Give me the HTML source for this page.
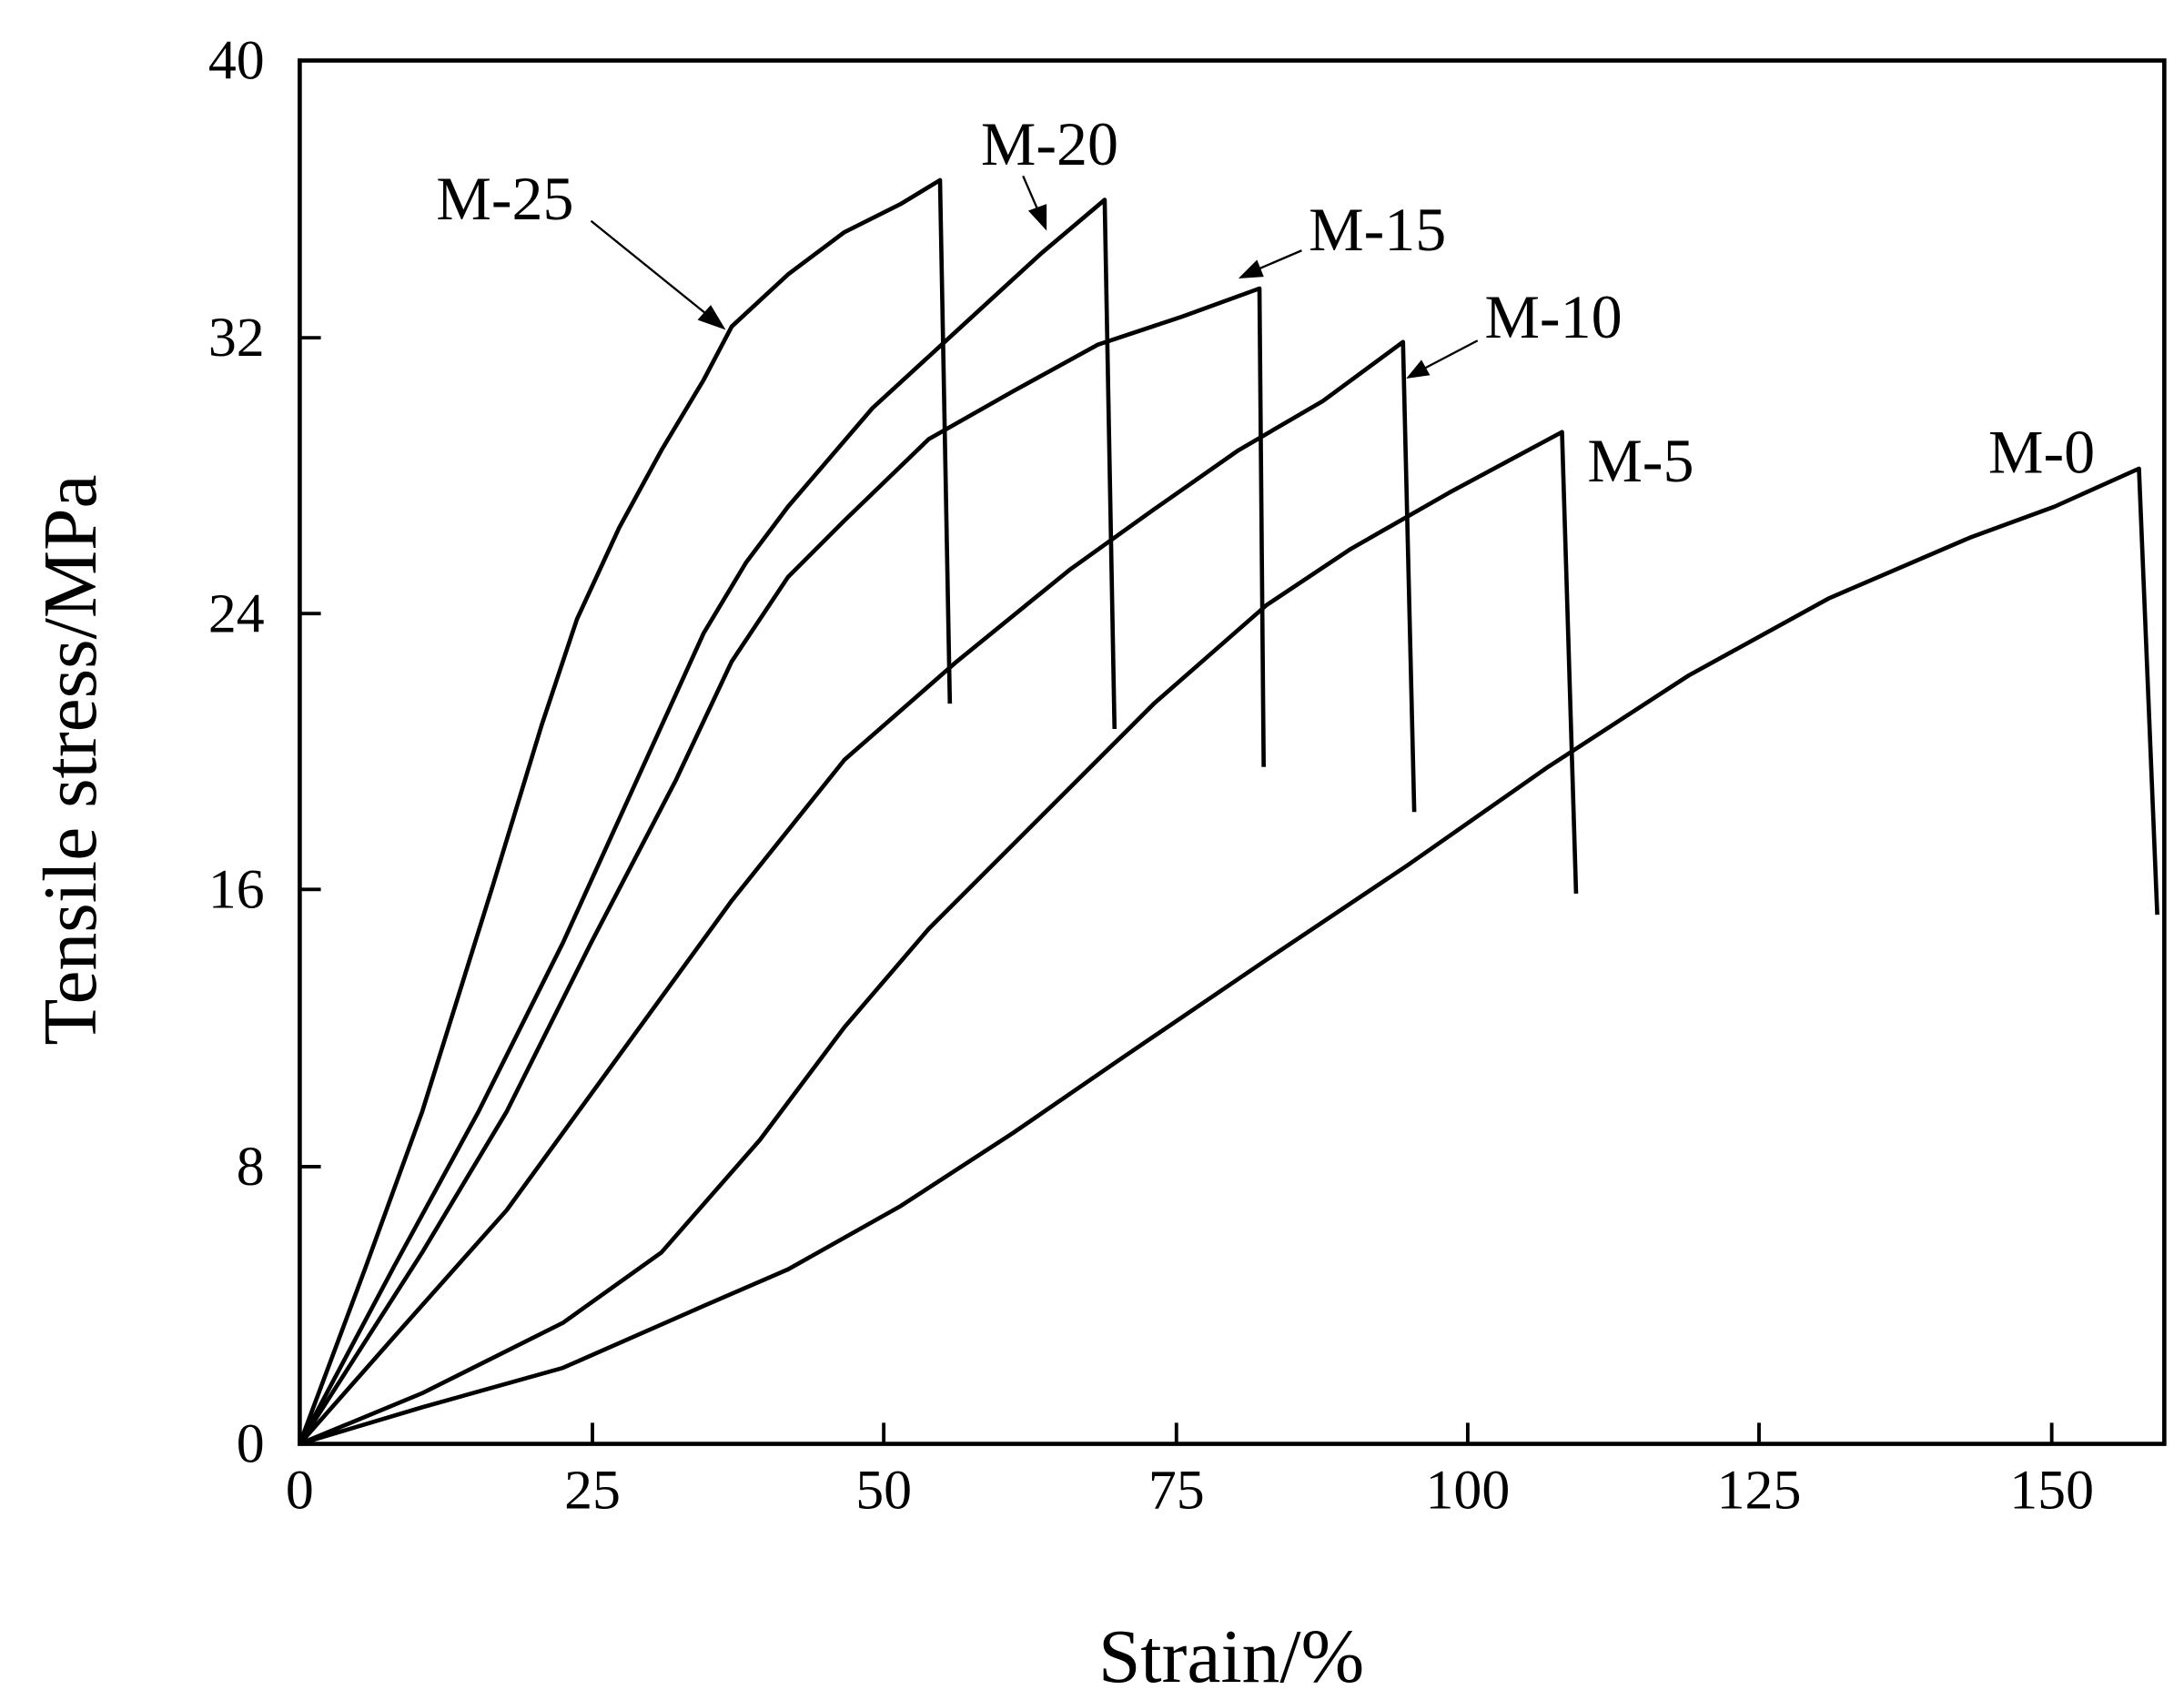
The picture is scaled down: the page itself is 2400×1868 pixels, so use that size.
<!DOCTYPE html>
<html><head><style>html,body{margin:0;padding:0;background:#fff}svg{display:block}</style></head>
<body>
<svg width="2400" height="1868" viewBox="0 0 1552 1208" preserveAspectRatio="none" xmlns="http://www.w3.org/2000/svg" font-family="'Liberation Serif', serif">
<rect width="1552" height="1208" fill="#fff"/>
<rect x="213" y="43" width="1325" height="983" fill="none" stroke="#000" stroke-width="3"/>
<g stroke="#000" stroke-width="2.5">
<line x1="421" y1="1026" x2="421" y2="1011"/><line x1="628" y1="1026" x2="628" y2="1011"/><line x1="836" y1="1026" x2="836" y2="1011"/><line x1="1043" y1="1026" x2="1043" y2="1011"/><line x1="1250" y1="1026" x2="1250" y2="1011"/><line x1="1458" y1="1026" x2="1458" y2="1011"/>
<line x1="213" y1="829" x2="228" y2="829"/><line x1="213" y1="632" x2="228" y2="632"/><line x1="213" y1="436" x2="228" y2="436"/><line x1="213" y1="240" x2="228" y2="240"/>
</g>
<g font-size="40" text-anchor="middle">
<text x="213" y="1072">0</text><text x="421" y="1072">25</text><text x="628" y="1072">50</text><text x="836" y="1072">75</text><text x="1043" y="1072">100</text><text x="1250" y="1072">125</text><text x="1458" y="1072">150</text>
</g>
<g font-size="40" text-anchor="end">
<text x="188" y="1039">0</text><text x="188" y="842">8</text><text x="188" y="645">16</text><text x="188" y="449">24</text><text x="188" y="253">32</text><text x="188" y="56">40</text>
</g>
<text x="875" y="1195" font-size="54" text-anchor="middle">Strain/%</text>
<text transform="translate(68,540) rotate(-90)" font-size="54" text-anchor="middle">Tensile stress/MPa</text>
<g fill="none" stroke="#000" stroke-width="3" stroke-linejoin="round">
<polyline points="213,1026 260,900 300,790 350,630 385,515 410,440 440,375 470,320 500,270 520,232 560,195 600,165 640,145 668,128 675,500"/>
<polyline points="213,1026 280,900 340,790 400,670 450,560 500,450 530,400 560,360 620,290 680,235 740,180 785,142 792,518"/>
<polyline points="213,1026 300,890 360,790 420,670 480,555 520,470 560,410 600,370 660,312 720,278 780,245 840,225 895,205 898,545"/>
<polyline points="213,1026 280,950 360,860 440,750 520,640 600,540 680,470 760,405 820,362 880,320 940,285 997,243 1005,577"/>
<polyline points="213,1026 300,990 400,940 470,890 540,810 600,730 660,660 740,580 820,500 900,430 960,390 1030,350 1110,307 1120,635"/>
<polyline points="213,1026 300,1000 400,972 500,928 560,902 640,857 720,805 800,750 900,682 1000,615 1100,545 1200,480 1300,425 1400,382 1460,360 1520,333 1533,650"/>
</g>
<g stroke="#000" stroke-width="1.5" fill="#000">
<line x1="420" y1="157" x2="508" y2="228"/><polygon points="514,233 497,227 505,218"/>
<line x1="727" y1="125" x2="740" y2="155"/><polygon points="743,162 732,150 743,146"/>
<line x1="925" y1="178" x2="890" y2="193"/><polygon points="882,197 893,186 897,196"/>
<line x1="1050" y1="242" x2="1008" y2="264"/><polygon points="1001,268 1010,257 1015,266"/>
</g>
<g font-size="44">
<text x="310" y="156">M-25</text>
<text x="697" y="117">M-20</text>
<text x="930" y="178">M-15</text>
<text x="1055" y="240">M-10</text>
<text x="1128" y="342">M-5</text>
<text x="1413" y="336">M-0</text>
</g>
</svg>
</body></html>
